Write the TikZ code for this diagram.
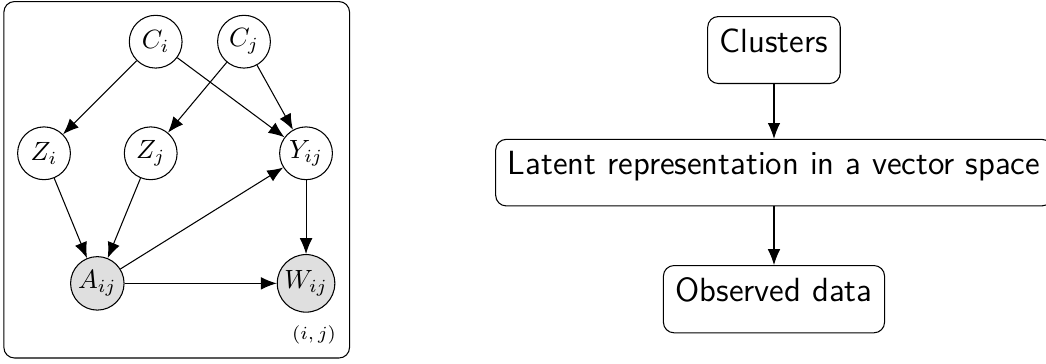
\documentclass[tikz,border=0pt]{standalone}
\usepackage{amsmath}
\usepackage{amssymb}
\usetikzlibrary{
        arrows.meta,
        fit,
        positioning
    }
\tikzset{>={Latex[length=6pt,width=4.8pt]},auto,node distance=0.75cm}
\tikzset{latent/.style={circle,draw,fill=white,inner sep=1pt,minimum size=20pt}}
\tikzset{obs/.style={latent,fill=gray!25}}
\tikzset{plate/.style={draw,rounded corners,inner sep=5pt}}
\tikzset{block/.style={draw,rounded corners,inner sep=4.6pt,
        font=\fontsize{12.7}{15}\selectfont\sffamily,text depth=7.2pt}}

\begin{document}
\begin{tikzpicture}[]
                \useasboundingbox (0,0) rectangle (13.928,-4.834);
                % graphical model
                \node[latent] (Ci)  at (2.073,-0.555)  {$C_i$};
                \node[latent] (Cj)  at (3.249,-0.555)  {$C_j$};
                \node[latent] (Zi)  at (0.586,-2.041)  {$Z_i$};
                \node[latent] (Zj)  at (2.007,-2.041)  {$Z_j$};
                \node[latent] (Yij) at (4.075,-2.041)  {$Y_{ij}$};
                \node[obs]    (Aij) at (1.296,-3.773)  {$A_{ij}$};
                \node[obs]    (Wij) at (4.075,-3.773)  {$W_{ij}$};
                \node[font=\scriptsize,inner sep=0pt] (lbl) at (4.181,-4.461) {$(i,j)$};
                \node[plate,fit=(Ci)(Cj)(Zi)(Yij)(Wij)(lbl)] (plt) {};
                \path[->]
                    (Ci)  edge (Zi)
                    (Ci)  edge (Yij)
                    (Cj)  edge (Zj)
                    (Cj)  edge (Yij)
                    (Zi)  edge (Aij)
                    (Zj)  edge (Aij)
                    (Aij) edge (Yij)
                    (Aij) edge (Wij)
                    (Yij) edge (Wij);
                % flow chart
                \node[block] (clus) at (10.306,-0.666) {Clusters};
                \node[block] (lat)  [below=0.73cm of clus] {Latent representation in a vector space};
                \node[block] (dat)  [below=0.78cm of lat]  {Observed data};
                \path[->]
                    (clus) edge (lat)
                    (lat)  edge (dat);
            \end{tikzpicture}
\end{document}
